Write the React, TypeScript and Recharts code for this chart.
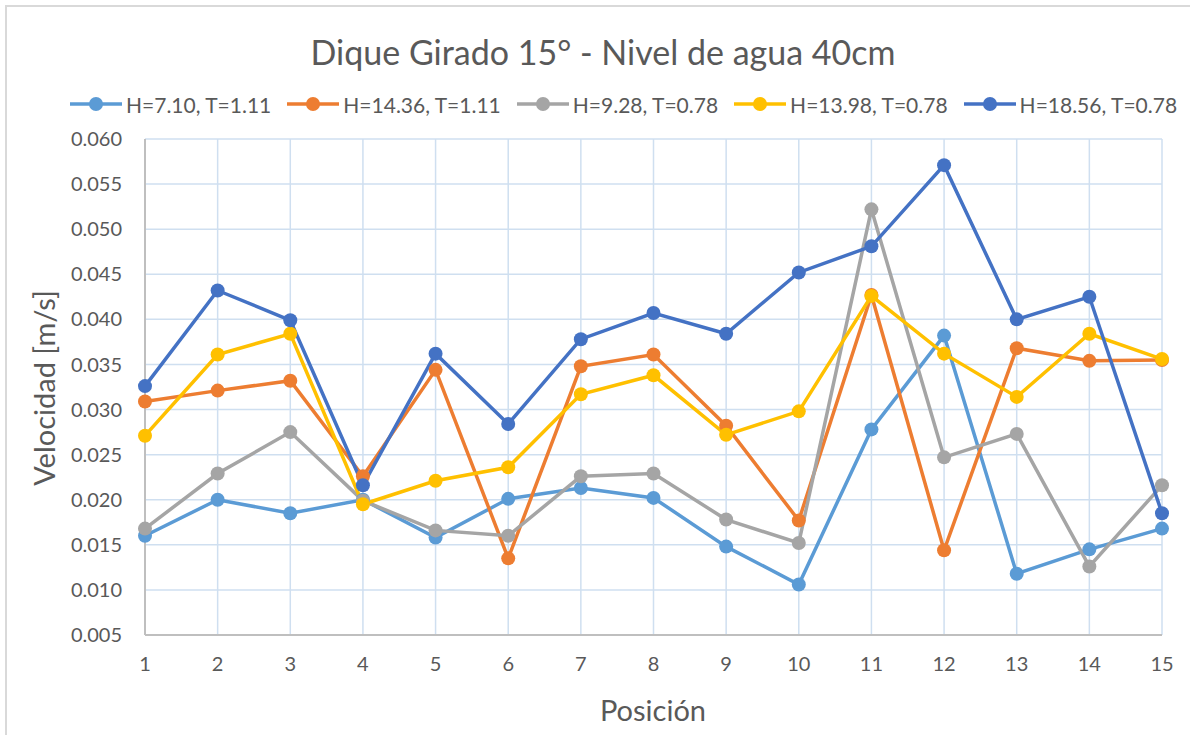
import React from 'react';
import { LineChart, Line, XAxis, YAxis, CartesianGrid } from 'recharts';

const positions = [1, 2, 3, 4, 5, 6, 7, 8, 9, 10, 11, 12, 13, 14, 15];
const serieH710 = [0.0160, 0.0200, 0.0185, 0.0200, 0.0158, 0.0201, 0.0213, 0.0202, 0.0148, 0.0106, 0.0278, 0.0382, 0.0118, 0.0145, 0.0168];
const serieH1436 = [0.0309, 0.0321, 0.0332, 0.0226, 0.0344, 0.0135, 0.0348, 0.0361, 0.0282, 0.0177, 0.0427, 0.0144, 0.0368, 0.0354, 0.0355];
const serieH928 = [0.0168, 0.0229, 0.0275, 0.0199, 0.0166, 0.0160, 0.0226, 0.0229, 0.0178, 0.0152, 0.0522, 0.0247, 0.0273, 0.0126, 0.0216];
const serieH1398 = [0.0271, 0.0361, 0.0384, 0.0195, 0.0221, 0.0236, 0.0317, 0.0338, 0.0272, 0.0298, 0.0426, 0.0362, 0.0314, 0.0384, 0.0356];
const serieH1856 = [0.0326, 0.0432, 0.0399, 0.0216, 0.0362, 0.0284, 0.0378, 0.0407, 0.0384, 0.0452, 0.0481, 0.0571, 0.0400, 0.0425, 0.0185];
const yTicks = [0.005, 0.01, 0.015, 0.02, 0.025, 0.03, 0.035, 0.04, 0.045, 0.05, 0.055, 0.06];

const seriesDefs = [
  { key: 's1', name: 'H=7.10, T=1.11', color: '#5B9BD5', values: serieH710 },
  { key: 's2', name: 'H=14.36, T=1.11', color: '#ED7D31', values: serieH1436 },
  { key: 's3', name: 'H=9.28, T=0.78', color: '#A5A5A5', values: serieH928 },
  { key: 's4', name: 'H=13.98, T=0.78', color: '#FFC000', values: serieH1398 },
  { key: 's5', name: 'H=18.56, T=0.78', color: '#4472C4', values: serieH1856 },
];

const data = positions.map((p, i) => {
  const row: Record<string, number> = { pos: p };
  seriesDefs.forEach((s) => {
    row[s.key] = s.values[i];
  });
  return row;
});

const FONT = 'Lato, "Open Sans", sans-serif';
const TEXT = '#595959';

export default function App() {
  return (
    <div
      style={{
        position: 'absolute',
        left: 0,
        top: 0,
        width: 1190,
        height: 735,
        overflow: 'hidden',
        background: '#fff',
        fontFamily: FONT,
      }}
    >
      <div
        style={{
          position: 'absolute',
          left: 5,
          top: 5,
          width: 1250,
          height: 800,
          border: '2px solid #d9d9d9',
          boxSizing: 'border-box',
        }}
      />
      <div
        style={{
          position: 'absolute',
          left: 0,
          width: 1206,
          top: 30,
          textAlign: 'center',
          fontSize: 34,
          color: TEXT,
          lineHeight: '44px',
        }}
      >
        Dique Girado 15° - Nivel de agua 40cm
      </div>
      <div
        style={{
          position: 'absolute',
          left: 70,
          top: 92,
          display: 'flex',
          alignItems: 'center',
          height: 24,
          fontSize: 21,
          color: TEXT,
          whiteSpace: 'nowrap',
        }}
      >
        {seriesDefs.map((s) => (
          <div key={s.key} style={{ display: 'flex', alignItems: 'center', marginRight: 16 }}>
            <svg width={52} height={16} style={{ marginRight: 4 }}>
              <line x1={0} y1={8} x2={52} y2={8} stroke={s.color} strokeWidth={3.5} />
              <circle cx={26} cy={8} r={7} fill={s.color} />
            </svg>
            <span>{s.name}</span>
          </div>
        ))}
      </div>
      <div
        style={{
          position: 'absolute',
          left: 43,
          top: 388,
          transform: 'translate(-50%, -50%) rotate(-90deg)',
          fontSize: 29,
          color: TEXT,
          whiteSpace: 'nowrap',
        }}
      >
        Velocidad [m/s]
      </div>
      <div
        style={{
          position: 'absolute',
          left: 653,
          top: 709,
          transform: 'translate(-50%, -50%)',
          fontSize: 29,
          color: TEXT,
          whiteSpace: 'nowrap',
        }}
      >
        Posición
      </div>
      <div style={{ position: 'absolute', left: 0, top: 0 }}>
        <LineChart
          width={1190}
          height={735}
          data={data}
          margin={{ top: 139, right: 28, bottom: 0, left: 0 }}
        >
          <CartesianGrid stroke="#cfdff0" strokeWidth={1.5} />
          <XAxis
            dataKey="pos"
            type="category"
            tickLine={false}
            tickSize={0}
            tickMargin={22}
            axisLine={{ stroke: '#bfbfbf', strokeWidth: 2 }}
            tick={{ fill: TEXT, fontSize: 20, fontFamily: FONT }}
            interval={0}
            height={100}
          />
          <YAxis
            type="number"
            domain={[0.005, 0.06]}
            ticks={yTicks}
            interval={0}
            allowDataOverflow
            tickFormatter={(v: number) => v.toFixed(3)}
            tickLine={false}
            tickSize={0}
            tickMargin={23}
            axisLine={{ stroke: '#bfbfbf', strokeWidth: 2 }}
            tick={{ fill: TEXT, fontSize: 20, fontFamily: FONT }}
            width={145}
          />
          {seriesDefs.map((s) => (
            <Line
              key={s.key}
              type="linear"
              dataKey={s.key}
              name={s.name}
              stroke={s.color}
              strokeWidth={3.5}
              dot={{ r: 7, fill: s.color, stroke: s.color, strokeWidth: 0 }}
              activeDot={false}
              isAnimationActive={false}
            />
          ))}
        </LineChart>
      </div>
    </div>
  );
}
